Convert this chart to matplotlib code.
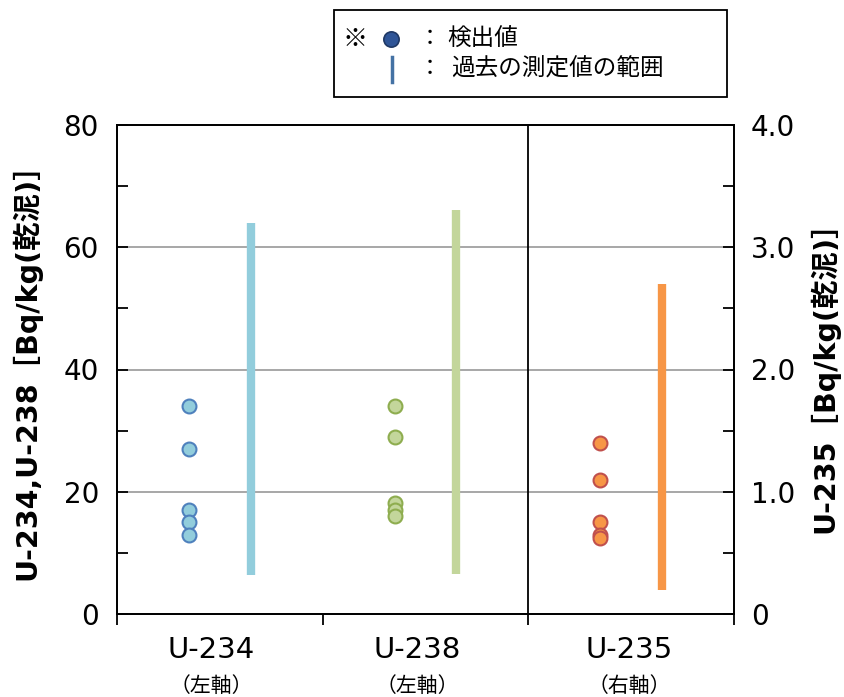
import matplotlib
matplotlib.use("Agg")
import matplotlib.pyplot as plt
from matplotlib.lines import Line2D
from matplotlib.patches import Rectangle
from matplotlib.ticker import FixedLocator, FuncFormatter
import matplotlib.transforms as mtrans

plt.rcParams['font.family'] = ['DejaVu Sans', 'Noto Sans CJK JP']

categories = ["U-234", "U-238", "U-235"]
axis_notes = ["（左軸）", "（左軸）", "（右軸）"]
u234_values = [34, 27, 17, 15, 13]
u238_values = [34, 29, 18.2, 17, 16]
u235_values = [1.40, 1.10, 0.75, 0.65, 0.62]
past_range_low = [6.4, 6.5, 0.2]
past_range_high = [64, 66.1, 2.70]

fills = ["#92CDDC", "#C3D69B", "#F79646"]
edges = ["#4F81BD", "#8EAD4F", "#C0504D"]
bar_colors = ["#92CDDC", "#C3D69B", "#F79646"]

W, H = 845, 697
fig = plt.figure(figsize=(W/100, H/100), dpi=100)
ax = fig.add_axes([117/W, 1-614/H, (734-117)/W, (614-125)/H])
ax2 = ax.twinx()

ax.set_xlim(0, 3)
ax.set_ylim(0, 80)
ax2.set_ylim(0, 4)

for y in [20, 40, 60]:
    ax.axhline(y, color="#A0A0A0", lw=1.3, zorder=1)
ax.axvline(2, color="black", lw=1.3, zorder=2)

left_series = [u234_values, u238_values]
for i, vals in enumerate(left_series):
    ax.plot([i + 0.35] * len(vals), vals, 'o', ms=10, mfc=fills[i], mec=edges[i], mew=1.5, zorder=4)
    ax.vlines(i + 0.65, past_range_low[i], past_range_high[i], color=bar_colors[i], lw=6, zorder=3)

ax2.plot([2.35] * len(u235_values), u235_values, 'o', ms=10, mfc=fills[2], mec=edges[2], mew=1.5, zorder=4)
ax2.vlines(2.65, past_range_low[2], past_range_high[2], color=bar_colors[2], lw=6, zorder=3)

# ticks
ax.yaxis.set_major_locator(FixedLocator([0, 20, 40, 60, 80]))
ax.yaxis.set_minor_locator(FixedLocator([10, 30, 50, 70]))
ax.tick_params(axis='y', which='both', direction='in', length=8, width=1.3, labelsize=20, pad=13)
ax2.yaxis.set_major_locator(FixedLocator([0, 1, 2, 3, 4]))
ax2.yaxis.set_minor_locator(FixedLocator([0.5, 1.5, 2.5, 3.5]))
ax2.yaxis.set_major_formatter(FuncFormatter(lambda v, p: "0" if v == 0 else f"{v:.1f}"))
ax2.tick_params(axis='y', which='both', direction='in', length=8, width=1.3, labelsize=20, pad=12)

ax.xaxis.set_major_locator(FixedLocator([0, 1, 2, 3]))
ax.xaxis.set_major_formatter(FuncFormatter(lambda v, p: ""))
ax.tick_params(axis='x', which='major', direction='out', length=8, width=1.3)

label_pos = [0.46, 1.46, 2.49]
trans = mtrans.blended_transform_factory(ax.transData, fig.transFigure)
for i, (cat, note) in enumerate(zip(categories, axis_notes)):
    ax.text(label_pos[i], 1 - 650/H, cat, transform=trans, ha='center', va='center', fontsize=21)
    ax.text(label_pos[i], 1 - 686/H, note, transform=trans, ha='center', va='center',
            fontsize=15, family=['Noto Sans CJK JP'])

for a in (ax, ax2):
    for s in a.spines.values():
        s.set_linewidth(1.3)
        s.set_color("black")

fig.text(35/W, 1 - 580/H, "U-234,U-238［Bq/kg(乾泥)］", rotation=90, rotation_mode='anchor',
         ha='left', va='baseline', fontsize=20.5, fontweight='bold')
fig.text(833/W, 1 - 533/H, "U-235［Bq/kg(乾泥)］", rotation=90, rotation_mode='anchor',
         ha='left', va='baseline', fontsize=20.5, fontweight='bold')

# legend box
lx0, lx1 = 334/W, 727/W
ly0, ly1 = 1 - 97/H, 1 - 10/H
fig.patches.append(Rectangle((lx0, ly0), lx1 - lx0, ly1 - ly0, transform=fig.transFigure,
                             fill=False, ec="black", lw=1.3))
jp = ['Noto Sans CJK JP']
r1 = 1 - 39/H
r2 = 1 - 69/H
fig.text(343/W, r1, "※", ha='left', va='center', fontsize=18, family=jp)
fig.lines.append(Line2D([391/W], [r1], marker='o', ms=11, mfc="#2F5597", mec="#1F3864", mew=1.2,
                        transform=fig.transFigure))
fig.text(419/W, r1, "：", ha='left', va='center', fontsize=16, family=jp)
fig.text(447/W, r1, "検出値", ha='left', va='center', fontsize=17, family=jp)
fig.lines.append(Line2D([392/W, 392/W], [1 - 57/H, 1 - 82/H], color="#4472A4", lw=2.5,
                        transform=fig.transFigure))
fig.text(419/W, r2, "：", ha='left', va='center', fontsize=16, family=jp)
fig.text(451/W, r2, "過去の測定値の範囲", ha='left', va='center', fontsize=17, family=jp)

fig.savefig("out.png", dpi=100)
